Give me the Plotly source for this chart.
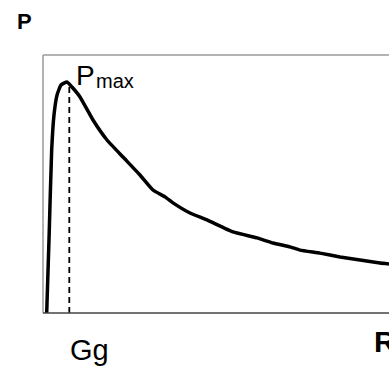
import plotly.graph_objects as go

# curve P(R) (arbitrary units)
r_vals = [0.107, 0.173, 0.251, 0.318, 0.405, 0.520, 0.694, 0.838, 1.069, 1.445,
          1.850, 2.312, 2.803, 3.179, 3.526, 3.757, 4.249, 4.740, 5.491, 6.185,
          6.647, 7.139, 7.428, 8.006, 8.584, 9.162, 9.740, 10.0]
p_vals = [0.0, 0.317, 0.708, 0.860, 0.946, 0.990, 1.003, 0.981, 0.938, 0.838,
          0.751, 0.677, 0.599, 0.534, 0.504, 0.478, 0.434, 0.404, 0.352, 0.326,
          0.304, 0.287, 0.273, 0.260, 0.243, 0.230, 0.217, 0.213]

gg_r = 0.76
gg_line = [0.0, 0.994]

W, H = 389, 367
L, R, T, B = 43, 0, 55, 54
pw, ph = W - L - R, H - T - B


# pixel position in the reference -> paper coords
def px(x):
    return (x - L) / pw


def py(y):
    return (H - B - y) / ph


fig = go.Figure()
fig.add_trace(go.Scatter(x=[gg_r, gg_r], y=gg_line, mode="lines",
                         line=dict(color="black", width=1.8, dash="6px,4px")))
fig.add_trace(go.Scatter(x=r_vals, y=p_vals, mode="lines",
                         line=dict(color="black", width=3.5, shape="spline", smoothing=0.4)))

font = "Liberation Sans, Arial, sans-serif"
ann = [
    dict(text="<b>P</b>", x=px(24), y=py(21), size=22),
    dict(text="P", x=px(85.5), y=py(75), size=28),
    dict(text="max", x=px(115), y=py(81), size=20),
    dict(text="Gg", x=px(89), y=py(350), size=29),
]
for a in ann:
    fig.add_annotation(text=a["text"], x=a["x"], y=a["y"], xref="paper", yref="paper",
                       showarrow=False, xanchor="center", yanchor="middle",
                       font=dict(family=font, size=a["size"], color="black"))
fig.add_annotation(text="<b>R</b>", x=px(372), y=py(341), xref="paper", yref="paper",
                   showarrow=False, xanchor="left", yanchor="middle",
                   font=dict(family=font, size=30, color="black"))

# frame: gray left/top, dark bottom
fig.add_shape(type="line", xref="paper", yref="paper", x0=0, x1=1.1, y0=1, y1=1,
              line=dict(color="#9a9a9a", width=1.5))
fig.add_shape(type="line", xref="paper", yref="paper", x0=0, x1=0, y0=0, y1=1,
              line=dict(color="#9a9a9a", width=1.5))
fig.add_shape(type="line", xref="paper", yref="paper", x0=0, x1=1.1, y0=0, y1=0,
              line=dict(color="#444444", width=1.5))

fig.update_xaxes(range=[0, 10], showgrid=False, zeroline=False, showticklabels=False,
                 ticks="", showline=False)
fig.update_yaxes(range=[0, 1.12], showgrid=False, zeroline=False, showticklabels=False,
                 ticks="", showline=False)
fig.update_layout(width=W, height=H, margin=dict(l=L, r=R, t=T, b=B),
                  plot_bgcolor="white", paper_bgcolor="white", showlegend=False)

# drop the default page margin so the figure fills the window exactly
fig.write_html("out.html", config={"displayModeBar": False},
               post_script="document.body.style.margin='0';document.body.style.overflow='hidden';")
